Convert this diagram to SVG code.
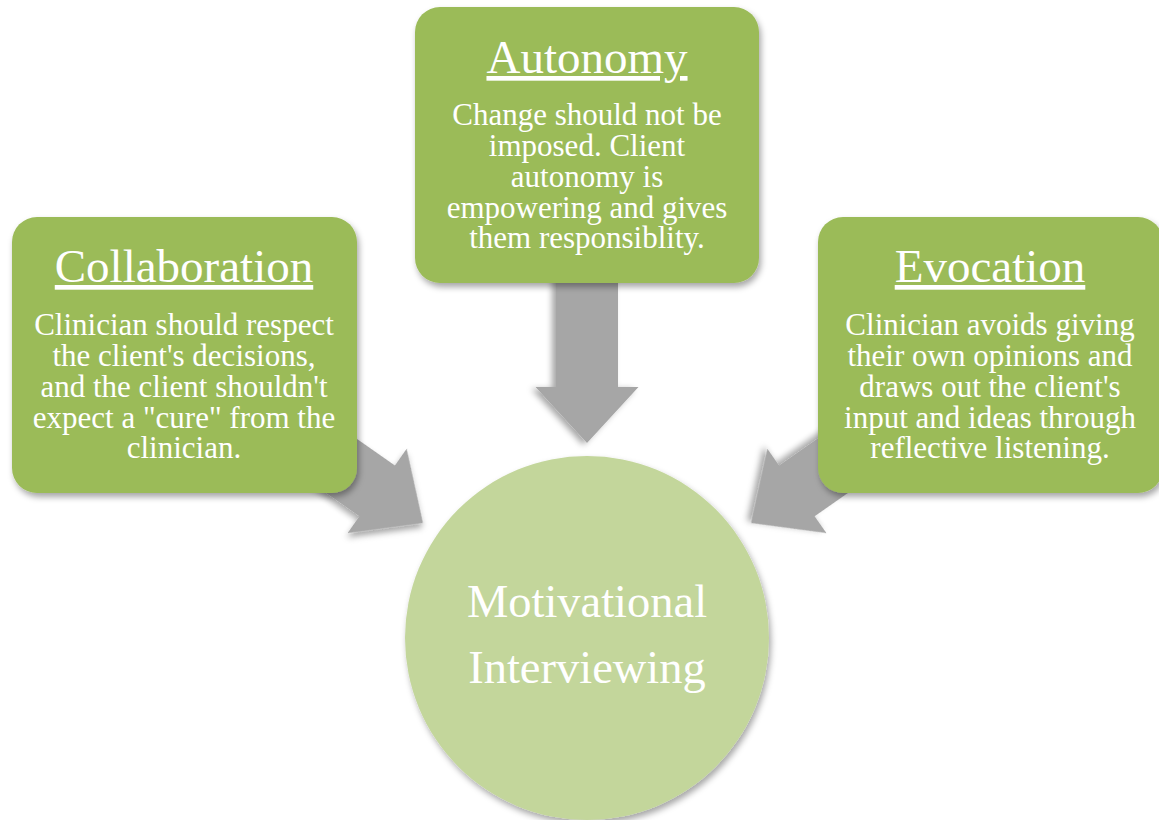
<svg xmlns="http://www.w3.org/2000/svg" width="1159" height="820" viewBox="0 0 1159 820">
<defs>
<filter id="sh" x="-20%" y="-20%" width="140%" height="140%">
<feDropShadow dx="2" dy="4" stdDeviation="3" flood-color="#000" flood-opacity="0.35"/>
</filter>
<path id="arr" d="M0,0 L-56,-51.5 L-56,-31 L-170,-31 L-170,31 L-56,31 L-56,51.5 Z"/>
<style>
.box{fill:#9bbb59;filter:url(#sh)}
.arrow{fill:#a6a6a6;filter:url(#sh)}
.circ{fill:#c3d69b;filter:url(#sh)}
text{font-family:"Liberation Serif","Times New Roman",serif;fill:#fff;text-anchor:middle}
.title{font-size:47px;text-decoration:underline}
.body{font-size:31px}
.center{font-size:46.5px}
</style>
</defs>
<g id="connectors">
<use href="#arr" class="arrow" transform="translate(587,443) rotate(90)"/>
<use href="#arr" class="arrow" transform="translate(423,523) rotate(35)"/>
<use href="#arr" class="arrow" transform="translate(751,523) rotate(145)"/>
</g>
<g id="node-center">
<circle class="circ" cx="587" cy="638" r="182"/>
<text class="center" x="587" y="617">Motivational</text>
<text class="center" x="587" y="683">Interviewing</text>
</g>
<g id="node-autonomy">
<rect class="box" x="415" y="7" width="344" height="276" rx="25"/>
<text class="title" x="587" y="73">Autonomy</text>
<text class="body" x="587" y="125">Change should not be</text>
<text class="body" x="587" y="156">imposed. Client</text>
<text class="body" x="587" y="187">autonomy is</text>
<text class="body" x="587" y="218">empowering and gives</text>
<text class="body" x="587" y="248">them responsiblity.</text>
</g>
<g id="node-collaboration">
<rect class="box" x="12" y="217" width="345" height="276" rx="25"/>
<text class="title" x="184" y="282">Collaboration</text>
<text class="body" x="184" y="335">Clinician should respect</text>
<text class="body" x="184" y="366">the client's decisions,</text>
<text class="body" x="184" y="397">and the client shouldn't</text>
<text class="body" x="184" y="428">expect a "cure" from the</text>
<text class="body" x="184" y="458">clinician.</text>
</g>
<g id="node-evocation">
<rect class="box" x="818" y="217" width="345" height="276" rx="25"/>
<text class="title" x="990" y="282">Evocation</text>
<text class="body" x="990" y="335">Clinician avoids giving</text>
<text class="body" x="990" y="366">their own opinions and</text>
<text class="body" x="990" y="397">draws out the client's</text>
<text class="body" x="990" y="428">input and ideas through</text>
<text class="body" x="990" y="458">reflective listening.</text>
</g>
</svg>
